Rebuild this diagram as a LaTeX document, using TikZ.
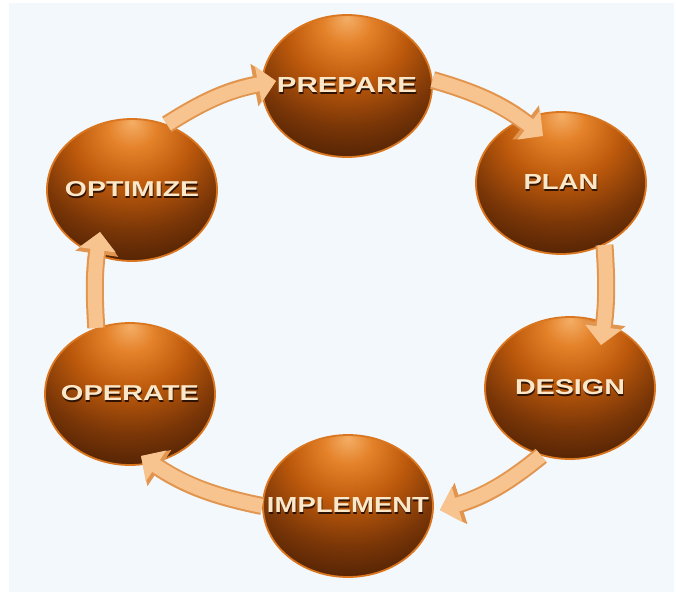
\documentclass[tikz,border=0pt]{standalone}
\usepackage{fontspec}
\setmainfont{Liberation Sans}
\usetikzlibrary{shapes.geometric,arrows.meta,calc}
\definecolor{panel}{HTML}{F2F8FC}
\definecolor{sphHL}{HTML}{F4AE66}
\definecolor{sphA}{HTML}{E4822A}
\definecolor{sphB}{HTML}{BE5A0C}
\definecolor{sphC}{HTML}{7A3607}
\definecolor{sphD}{HTML}{4A1F04}
\definecolor{rim}{HTML}{D9761F}
\definecolor{peach}{HTML}{F7C48F}
\definecolor{peachedge}{HTML}{E2954E}
\definecolor{txtcol}{HTML}{FCE8C8}
\definecolor{txtshadow}{HTML}{2E1202}
\pgfdeclareradialshading{sph}{\pgfpoint{0bp}{24bp}}{color(0bp)=(sphHL); color(7bp)=(sphA); color(17bp)=(sphB); color(29bp)=(sphC); color(40bp)=(sphD); color(75bp)=(sphD)}
\newcommand{\shtxt}[2]{\makebox[0pt]{\raisebox{-1.3pt}{\hspace*{1.3pt}\textcolor{txtshadow}{\resizebox{#1pt}{15pt}{\bfseries #2}}}}\makebox[0pt]{\textcolor{txtcol}{\resizebox{#1pt}{15pt}{\bfseries #2}}}}
\tikzset{
  ball/.style={ellipse, minimum width=170pt, minimum height=142pt, inner sep=0pt,
    shading=sph, draw=rim, line width=1.8pt},
  cyc/.style={line width=14pt, draw=peach, bend left=11,
    -{Triangle[length=18pt,width=36pt]},
    preaction={draw=peachedge, line width=18pt, -{Triangle[length=22pt,width=42pt]}}}
}
\begin{document}
\begin{tikzpicture}[x=1pt,y=-1pt]
\fill[white] (0,0) rectangle (676,594);
\useasboundingbox (0,0) rectangle (676,594);
\fill[panel] (9,3) rectangle (674,592);

\node[ball] (prep) at (347,86)  {\shtxt{140}{PREPARE}};
\node[ball] (plan) at (561,183) {\shtxt{75}{PLAN}};
\node[ball] (des)  at (570,388) {\shtxt{110}{DESIGN}};
\node[ball] (impl) at (348,506) {\shtxt{162}{IMPLEMENT}};
\node[ball] (oper) at (130,394) {\shtxt{138}{OPERATE}};
\node[ball] (opt)  at (132,190) {\shtxt{134}{OPTIMIZE}};

\coordinate (t1) at ($(prep.center)+(-71,-5)$);
\coordinate (t2) at ($(plan.center)+(-18,-47)$);
\coordinate (t3) at ($(des.center)+(31,-43)$);
\coordinate (t4) at ($(impl.center)+(92,4)$);
\coordinate (t5) at ($(oper.center)+(11,62)$);
\coordinate (t6) at ($(opt.center)+(-32,42)$);

\draw[cyc] (opt.62) to (t1);
\draw[cyc] (prep.4) to (t2);
\draw[cyc, bend left=6] (plan.-55) to (t3);
\draw[cyc] (des.-113) to (t4);
\draw[cyc] (impl.180) to (t5);
\draw[cyc, bend left=6] (oper.117) to (t6);
\end{tikzpicture}
\end{document}
